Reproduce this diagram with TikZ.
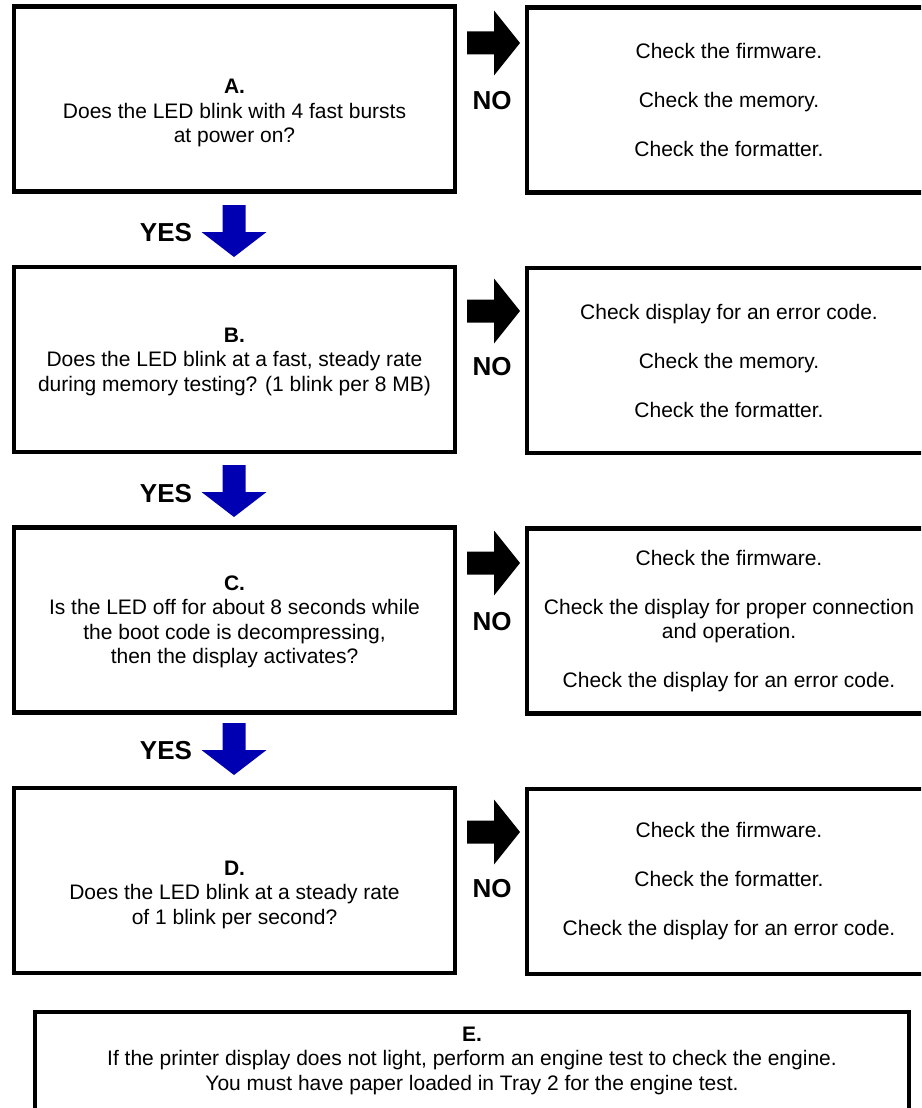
\documentclass[tikz,border=0pt]{standalone}
\usepackage{fontspec}
\setmainfont{Liberation Sans}
\usepackage{tikz}
\usetikzlibrary{positioning}

\definecolor{yesblue}{RGB}{0,0,178}

\tikzset{
	qbox/.style={draw, line width=4.5pt, minimum width=441pt, minimum height=185pt, inner sep=0pt},
	cbox/.style={draw, line width=4.5pt, minimum width=404pt, minimum height=185pt, inner sep=0pt,
		align=center, font=\fontsize{21}{24.5}\selectfont},
	txt/.style={align=center, inner sep=0pt, font=\fontsize{21}{24.5}\selectfont},
	yesno/.style={inner sep=0pt, font=\fontsize{26}{30}\selectfont\bfseries},
	pics/yesarrow/.style={code={
		\fill[yesblue] (-11.5,0) -- (11.5,0) -- (11.5,27) -- (32.5,27) -- (0,52) -- (-32.5,27) -- (-11.5,27) -- cycle;
	}},
	pics/noarrow/.style={code={
		\fill[black] (0,0) -- (-26,-32.5) -- (-26,-11.5) -- (-53,-11.5) -- (-53,11.5) -- (-26,11.5) -- (-26,32.5) -- cycle;
	}}
}

\begin{document}
\begin{tikzpicture}[x=1pt, y=-1pt]
	\useasboundingbox (0,0) rectangle (921,1108);
	\clip (0,0) rectangle (921,1108);
	
	% Question boxes
	\node (boxA) at (234.5,99) [qbox] {};
	\node (boxB) at (234.5,359.5) [qbox] {};
	\node (boxC) at (234.5,620) [qbox] {};
	\node (boxD) at (234.5,880.5) [qbox] {};
	
	\node (qA) at (234.5,113) [txt] {\textbf{A.}\\Does the LED blink with 4 fast bursts\\at power on?};
	\node (qB) at (234.5,361.5) [txt] {\textbf{B.}\\Does the LED blink at a fast, steady rate\\during memory testing? (1 blink per 8 MB)};
	\node (qC) at (234.5,622) [txt] {\textbf{C.}\\Is the LED off for about 8 seconds while\\the boot code is decompressing,\\then the display activates?};
	\node (qD) at (234.5,894.5) [txt] {\textbf{D.}\\Does the LED blink at a steady rate\\of 1 blink per second?};
	
	% Check boxes (cut at the right edge)
	\node (chkA) at (729,100) [cbox] {Check the firmware.\\[24.5pt]Check the memory.\\[24.5pt]Check the formatter.};
	\node (chkB) at (729,360.5) [cbox] {Check display for an error code.\\[24.5pt]Check the memory.\\[24.5pt]Check the formatter.};
	\node (chkC) at (729,621) [cbox] {Check the firmware.\\[24.5pt]Check the display for proper connection\\and operation.\\[24.5pt]Check the display for an error code.};
	\node (chkD) at (729,881.5) [cbox] {Check the firmware.\\[24.5pt]Check the formatter.\\[24.5pt]Check the display for an error code.};
	
	% NO arrows
	\foreach \n/\yt/\yn in {A/43/101, B/311/367, C/563/622, D/832/889} {
		\pic at (520,\yt) {noarrow};
		\node (no\n) at (492,\yn) [yesno] {NO};
	}
	
	% YES arrows
	\foreach \n/\yt/\yl in {A/205/232.5, B/465/493.5, C/723/750.5} {
		\pic at (234,\yt) {yesarrow};
		\node (yes\n) at (166,\yl) [yesno] {YES};
	}
	
	% Engine test box (cut at the bottom edge)
	\node (boxE) at (472,1072) [draw, line width=4.5pt, minimum width=874pt, minimum height=120pt] {};
	\node (qE) at (472,1060.5) [txt] {\textbf{E.}\\If the printer display does not light, perform an engine test to check the engine.\\You must have paper loaded in Tray 2 for the engine test.};
\end{tikzpicture}
\end{document}
